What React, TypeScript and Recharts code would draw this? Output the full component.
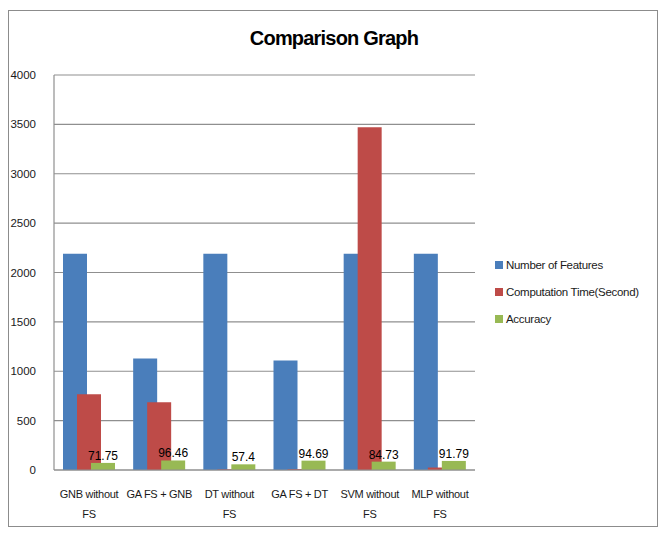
import React from 'react';
import { BarChart, Bar, XAxis, YAxis, CartesianGrid, Legend, LabelList } from 'recharts';

const categories = ['GNB without FS', 'GA FS + GNB', 'DT without FS', 'GA FS + DT', 'SVM without FS', 'MLP without FS'];
const numFeatures = [2190, 1130, 2190, 1110, 2190, 2190];
const compTime = [768, 687, 6, 8, 3470, 25];
const accuracy = [71.75, 96.46, 57.4, 94.69, 84.73, 91.79];
const yTicks = [0, 500, 1000, 1500, 2000, 2500, 3000, 3500, 4000];

const series = [
  { key: 'features', name: 'Number of Features', color: '#4A7EBB' },
  { key: 'time', name: 'Computation Time(Second)', color: '#BE4B48' },
  { key: 'acc', name: 'Accuracy', color: '#98B954' },
];

const data = categories.map((c, i) => ({
  name: c,
  features: numFeatures[i],
  time: compTime[i],
  acc: accuracy[i],
}));

const FONT = '"Liberation Sans", Arial, sans-serif';

function CategoryTick({ x, y, payload }: any) {
  const label: string = payload.value;
  const idx = label.indexOf(' without');
  const lines = idx >= 0 ? [label.slice(0, idx + 8), label.slice(idx + 9)] : [label];
  return (
    <text x={x} y={y} textAnchor="middle" fontSize={11} letterSpacing={-0.3} fontFamily={FONT} fill="#1a1a1a">
      {lines.map((l, i) => (
        <tspan key={i} x={x} dy={i === 0 ? 20 : 20}>{l}</tspan>
      ))}
    </text>
  );
}

function SideLegend() {
  return (
    <div style={{ paddingLeft: 20, fontFamily: FONT, fontSize: 11.5, letterSpacing: -0.3, color: '#1a1a1a', whiteSpace: 'nowrap' }}>
      {series.map((s) => (
        <div key={s.key} style={{ display: 'flex', alignItems: 'center', height: 27 }}>
          <span style={{ width: 8, height: 8, background: s.color, marginRight: 3, display: 'inline-block' }} />
          {s.name}
        </div>
      ))}
    </div>
  );
}

export default function App() {
  return (
    <div style={{ position: 'relative', width: 650, height: 517, border: '1px solid #8c8c8c', boxSizing: 'border-box', marginTop: 2, background: '#fff' }}>
      <div style={{ position: 'absolute', top: 16, left: 0, width: 650, textAlign: 'center', fontFamily: FONT, fontWeight: 'bold', fontSize: 20, letterSpacing: -0.8, color: '#000' }}>
        Comparison Graph
      </div>
      <BarChart
        width={648}
        height={515}
        data={data}
        margin={{ top: 64, right: 12, left: 0, bottom: 6 }}
        barSize={24}
        barGap={-10}
      >
        <CartesianGrid vertical={false} stroke="#8f8f8f" strokeWidth={1.2} />
        <XAxis
          dataKey="name"
          height={50}
          tick={<CategoryTick />}
          tickLine={false}
          axisLine={{ stroke: '#8f8f8f', strokeWidth: 1.2 }}
          interval={0}
        />
        <YAxis
          width={45}
          domain={[0, 4000]}
          ticks={yTicks}
          tickLine={false}
          tickMargin={12}
          axisLine={{ stroke: '#8f8f8f', strokeWidth: 1.2 }}
          tick={{ fontSize: 11.5, fontFamily: FONT, fill: '#1a1a1a' }}
        />
        <Legend
          layout="vertical"
          align="right"
          verticalAlign="middle"
          width={170}
          wrapperStyle={{ top: 240 }}
          content={<SideLegend />}
        />
        {series.map((s) => (
          <Bar key={s.key} dataKey={s.key} name={s.name} fill={s.color} isAnimationActive={false}>
            {s.key === 'acc' && (
              <LabelList dataKey="acc" position="top" offset={3} fontSize={12} fontFamily={FONT} fill="#000" />
            )}
          </Bar>
        ))}
      </BarChart>
    </div>
  );
}
